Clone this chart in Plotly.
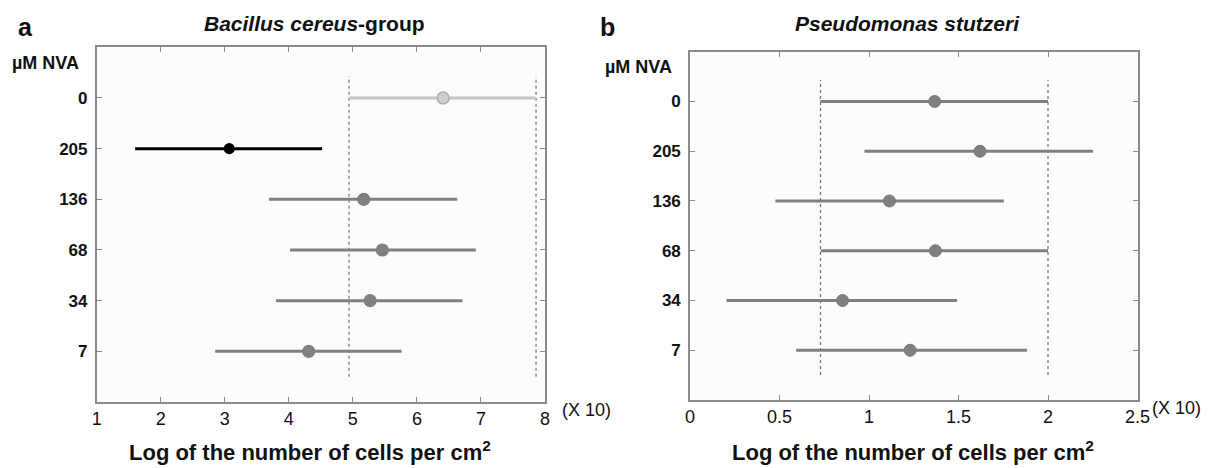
import plotly.graph_objects as go

# ---- data ----
doses = ["0", "205", "136", "68", "34", "7"]          # top to bottom
a_mean = [6.41, 3.07, 5.17, 5.46, 5.27, 4.31]
a_low = [4.94, 1.60, 3.69, 4.02, 3.80, 2.85]
a_high = [7.85, 4.52, 6.63, 6.92, 6.71, 5.76]
a_colors = ["#cfcfcf", "#000000", "#808080", "#808080", "#808080", "#808080"]
a_line_colors = ["#c4c4c4", "#000000", "#808080", "#808080", "#808080", "#808080"]
a_edge_colors = ["#a8a8a8", "#000000", "#808080", "#808080", "#808080", "#808080"]
a_refs = [4.94, 7.86]

b_mean = [1.367, 1.62, 1.114, 1.371, 0.852, 1.23]
b_low = [0.728, 0.975, 0.477, 0.73, 0.204, 0.593]
b_high = [2.0, 2.252, 1.753, 2.0, 1.492, 1.883]
b_refs = [0.729, 2.0]

a_xticks = [1, 2, 3, 4, 5, 6, 7, 8]
b_xticks = [0, 0.5, 1, 1.5, 2, 2.5]
b_xticktext = ["0", "0.5", "1", "1.5", "2", "2.5"]
ref_span = [0.5, 6.43]

W, H = 1216, 468
FONT = "Liberation Sans, Arial, sans-serif"
ypos = [len(doses) - i for i in range(len(doses))]

fig = go.Figure()

# reference dotted lines
for v in a_refs:
    fig.add_trace(go.Scatter(x=[v, v], y=ref_span, mode="lines",
                             line=dict(color="#707070", width=1.2, dash="dot"),
                             xaxis="x", yaxis="y", showlegend=False, hoverinfo="skip"))
for v in b_refs:
    fig.add_trace(go.Scatter(x=[v, v], y=ref_span, mode="lines",
                             line=dict(color="#707070", width=1.2, dash="dot"),
                             xaxis="x2", yaxis="y2", showlegend=False, hoverinfo="skip"))

# panel a
for i in range(len(doses)):
    size = 10 if i == 1 else 12
    fig.add_trace(go.Scatter(
        x=[a_low[i], a_high[i]], y=[ypos[i], ypos[i]], mode="lines",
        line=dict(color=a_line_colors[i], width=3),
        xaxis="x", yaxis="y", showlegend=False, hoverinfo="skip"))
    fig.add_trace(go.Scatter(
        x=[a_mean[i]], y=[ypos[i]], mode="markers",
        marker=dict(color=a_colors[i], size=size,
                    line=dict(color=a_edge_colors[i], width=1.2)),
        xaxis="x", yaxis="y", showlegend=False))

# panel b
for i in range(len(doses)):
    fig.add_trace(go.Scatter(
        x=[b_low[i], b_high[i]], y=[ypos[i], ypos[i]], mode="lines",
        line=dict(color="#808080", width=3),
        xaxis="x2", yaxis="y2", showlegend=False, hoverinfo="skip"))
    fig.add_trace(go.Scatter(
        x=[b_mean[i]], y=[ypos[i]], mode="markers",
        marker=dict(color="#808080", size=12, line=dict(color="#787878", width=1)),
        xaxis="x2", yaxis="y2", showlegend=False))

axis_common = dict(showline=True, linecolor="#8a8a8a", linewidth=1.6, mirror="ticks",
                   ticks="inside", ticklen=5, tickwidth=1.4, tickcolor="#8a8a8a",
                   showgrid=False, zeroline=False, automargin=False)

fig.update_layout(
    template="none",
    width=W, height=H, autosize=False,
    margin=dict(l=0, r=0, t=0, b=0),
    paper_bgcolor="white", plot_bgcolor="#fcfcfc",
    font=dict(family=FONT, color="#111111"),
    xaxis=dict(domain=[96.7 / W, 545 / W], range=[1, 8], tickvals=a_xticks,
               tickfont=dict(size=18, family=FONT), ticklabelstandoff=0, **axis_common),
    yaxis=dict(domain=[1 - 402 / H, 1 - 47.3 / H], range=[0, 7], tickvals=ypos,
               ticktext=[f"<b>{d}</b>" for d in doses],
               tickfont=dict(size=17, family=FONT), ticklabelstandoff=4, **axis_common),
    xaxis2=dict(domain=[690 / W, 1137.5 / W], range=[0, 2.5], tickvals=b_xticks,
                ticktext=b_xticktext, anchor="y2",
                tickfont=dict(size=18, family=FONT), ticklabelstandoff=0, **axis_common),
    yaxis2=dict(domain=[1 - 400 / H, 1 - 51.7 / H], range=[0, 7], tickvals=ypos,
                ticktext=[f"<b>{d}</b>" for d in doses], anchor="x2",
                tickfont=dict(size=17, family=FONT), ticklabelstandoff=4, **axis_common),
)

def ann(text, x, y, size, xanchor="center", yanchor="middle"):
    fig.add_annotation(text=text, x=x / W, y=1 - y / H, xref="paper", yref="paper",
                       showarrow=False, xanchor=xanchor, yanchor=yanchor,
                       font=dict(size=size, family=FONT, color="#111111"))

ann("<b>a</b>", 25, 27, 25)
ann("<b>b</b>", 607, 27, 25)
ann("<b><i>Bacillus cereus</i>-group</b>", 314, 23, 21)
ann("<b><i>Pseudomonas stutzeri</i></b>", 907, 23, 21)
ann("<b>µM NVA</b>", 81, 63, 18, xanchor="right")
ann("<b>µM NVA</b>", 674, 67, 18, xanchor="right")
ann("<b>Log of the number of cells per cm<sup>2</sup></b>", 310, 467, 22, yanchor="bottom")
ann("<b>Log of the number of cells per cm<sup>2</sup></b>", 913, 467, 22, yanchor="bottom")
ann("(X 10)", 586, 410, 18)
ann("(X 10)", 1176, 408, 18)

fig.write_html("out.html", config={"displayModeBar": False},
               post_script="document.body.style.margin='0';document.body.style.overflow='hidden';")
